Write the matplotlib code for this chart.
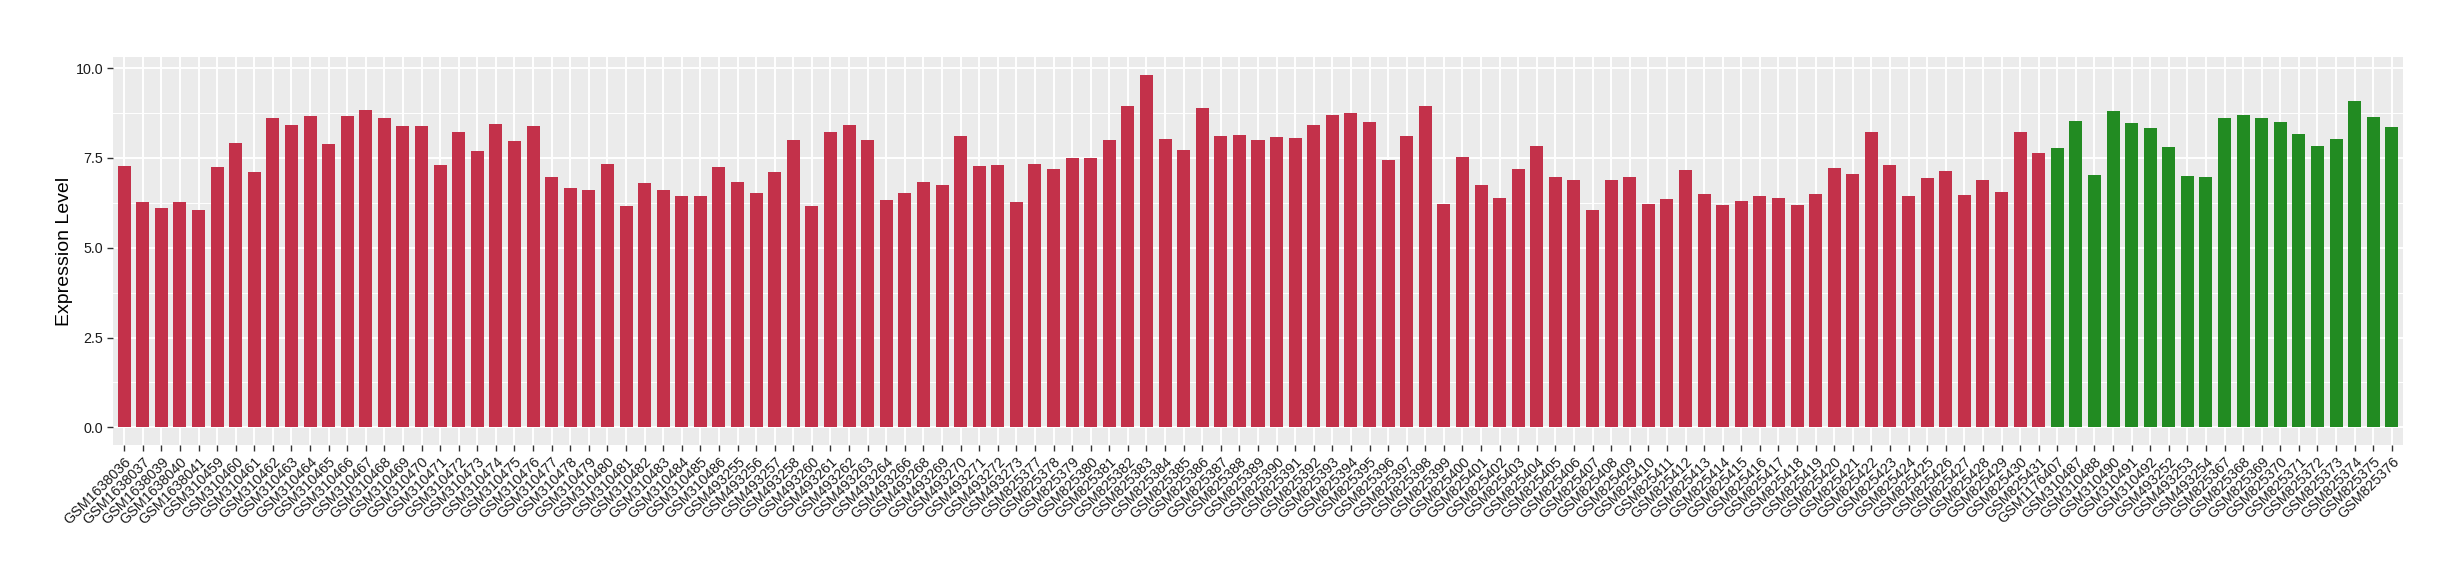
import matplotlib
matplotlib.use("Agg")
import matplotlib.pyplot as plt
from matplotlib.ticker import FixedLocator

plt.rcParams['font.family'] = ['Liberation Sans', 'DejaVu Sans']

red_samples = (
    ["GSM1638036", "GSM1638037", "GSM1638039", "GSM1638040", "GSM1638041"]
    + ["GSM%d" % n for n in range(310459, 310487)]
    + ["GSM493255", "GSM493256", "GSM493257", "GSM493258", "GSM493260", "GSM493261",
       "GSM493262", "GSM493263", "GSM493264", "GSM493266", "GSM493268", "GSM493269",
       "GSM493270", "GSM493271", "GSM493272", "GSM493273"]
    + ["GSM%d" % n for n in range(825377, 825432)]
)
green_samples = (
    ["GSM1176407", "GSM310487", "GSM310488", "GSM310490", "GSM310491", "GSM310492",
     "GSM493252", "GSM493253", "GSM493254"]
    + ["GSM%d" % n for n in range(825367, 825377)]
)

red_values = [
    7.27, 6.28, 6.11, 6.28, 6.05, 7.25, 7.91, 7.11, 8.60, 8.41,
    8.66, 7.88, 8.66, 8.83, 8.60, 8.38, 8.38, 7.30, 8.22, 7.69,
    8.44, 7.97, 8.38, 6.97, 6.66, 6.61, 7.33, 6.16, 6.80, 6.61,
    6.44, 6.44, 7.25, 6.83, 6.52, 7.11, 8.00, 6.16, 8.22, 8.41,
    8.00, 6.33, 6.52, 6.83, 6.75, 8.11, 7.27, 7.30, 6.28, 7.33,
    7.19, 7.50, 7.50, 8.00, 8.94, 9.82, 8.02, 7.72, 8.88, 8.11,
    8.13, 8.00, 8.08, 8.05, 8.41, 8.69, 8.74, 8.49, 7.44, 8.11,
    8.94, 6.22, 7.52, 6.75, 6.39, 7.19, 7.83, 6.97, 6.89, 6.05,
    6.89, 6.97, 6.22, 6.36, 7.16, 6.50, 6.19, 6.30, 6.44, 6.39,
    6.19, 6.50, 7.22, 7.05, 8.22, 7.30, 6.44, 6.94, 7.13, 6.47,
    6.89, 6.55, 8.22, 7.63,
]
green_values = [
    7.77, 8.52, 7.02, 8.80, 8.47, 8.33, 7.80, 7.00, 6.97, 8.60,
    8.69, 8.60, 8.49, 8.16, 7.83, 8.02, 9.08, 8.63, 8.35,
]

red_color = "#C3314A"
green_color = "#228B22"

labels = red_samples + green_samples
values = red_values + green_values
colors = [red_color] * len(red_values) + [green_color] * len(green_values)
x = list(range(len(labels)))

fig = plt.figure(figsize=(24.6, 5.8), dpi=100)
ax = fig.add_axes([113 / 2460, 1 - 445 / 580, (2403 - 113) / 2460, (445 - 57) / 580])
ax.set_facecolor("#EBEBEB")

ax.bar(x, values, width=0.7, color=colors, zorder=3)

ax.set_xlim(-0.6, len(labels) - 1 + 0.6)
ax.set_ylim(-0.491, 10.31)

ax.yaxis.set_major_locator(FixedLocator([0, 2.5, 5.0, 7.5, 10.0]))
ax.yaxis.set_minor_locator(FixedLocator([1.25, 3.75, 6.25, 8.75]))
ax.set_yticklabels(["0.0", "2.5", "5.0", "7.5", "10.0"])
ax.set_xticks(x)
ax.set_xticklabels(labels, rotation=45, ha="right", va="top", rotation_mode="anchor")

ax.grid(True, which="major", color="white", linewidth=1.4, zorder=0)
ax.grid(True, which="minor", axis="y", color="white", linewidth=0.7, zorder=0)
ax.set_axisbelow(True)

for s in ax.spines.values():
    s.set_visible(False)

ax.tick_params(axis="both", which="major", length=4, width=1.0, color="#333333",
               labelsize=10.3, labelcolor="#1a1a1a", pad=3)
ax.tick_params(axis="y", which="minor", length=0)

ax.set_ylabel("Expression Level", fontsize=14, color="black", labelpad=2)

fig.savefig("out.png", dpi=100)
